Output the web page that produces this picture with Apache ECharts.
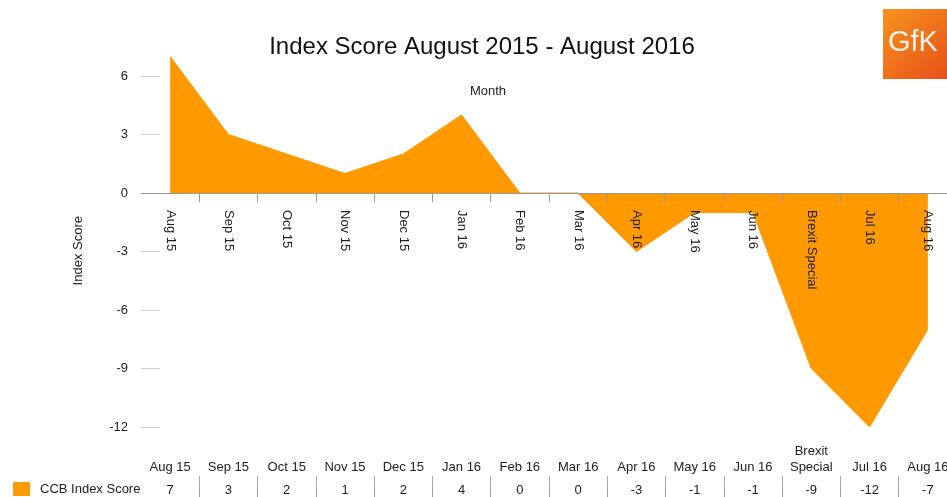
<!DOCTYPE html>
<html>
<head>
<meta charset="utf-8">
<script src="https://cdn.jsdelivr.net/npm/echarts@6/dist/echarts.min.js"></script>
<style>html,body{margin:0;padding:0;background:#fff}#c{width:947px;height:497px}</style>
</head>
<body>
<div id="c"></div>
<script>
var categories = ['Aug 15','Sep 15','Oct 15','Nov 15','Dec 15','Jan 16','Feb 16','Mar 16','Apr 16','May 16','Jun 16','Brexit Special','Jul 16','Aug 16'];
var headerLabels = ['Aug 15','Sep 15','Oct 15','Nov 15','Dec 15','Jan 16','Feb 16','Mar 16','Apr 16','May 16','Jun 16','Brexit\nSpecial','Jul 16','Aug 16'];
var scores = [7, 3, 2, 1, 2, 4, 0, 0, -3, -1, -1, -9, -12, -7];
var yTicks = [-12, -9, -6, -3, 0, 3, 6];

var FONT = '"Liberation Sans", Arial, sans-serif';
var chart = echarts.init(document.getElementById('c'), null, {renderer: 'canvas'});
chart.setOption({
  animation: false,
  textStyle: {fontFamily: FONT},
  title: [
    {text: 'Index Score August 2015 - August 2016', left: 477, top: 30, textAlign: 'center',
     textStyle: {fontSize: 24, fontWeight: 'normal', color: '#111', fontFamily: FONT}},
    {text: 'Month', left: 483, top: 80, textAlign: 'center',
     textStyle: {fontSize: 13, fontWeight: 'normal', color: '#222', fontFamily: FONT}}
  ],
  legend: {
    data: ['CCB Index Score'], left: 13, top: 482, padding: 0, icon: 'rect', itemWidth: 17, itemHeight: 14, itemGap: 8,
    textStyle: {fontSize: 13, color: '#222', fontFamily: FONT, padding: [0, 0, 0, 5]}
  },
  grid: [
    {left: 141, top: 56.5, width: 816, height: 370.5, outerBoundsMode: 'none', containLabel: false},
    {left: 141, top: 476, width: 816, height: 21, outerBoundsMode: 'none', containLabel: false},
    {left: 141, top: 193, width: 816, height: 100, outerBoundsMode: 'none', containLabel: false}
  ],
  xAxis: [
    {
      type: 'category', data: categories, gridIndex: 0, boundaryGap: true, z: 10,
      axisLine: {onZero: true, lineStyle: {color: '#999', width: 1}},
      axisTick: {show: true, length: 9, interval: function (i) { return i > 0; }, lineStyle: {color: '#999'}},
      axisLabel: {show: false},
      splitLine: {show: false}
    },
    {
      type: 'category', data: headerLabels, gridIndex: 1, position: 'top', boundaryGap: true,
      axisLine: {show: true, lineStyle: {color: '#eee', width: 1}},
      axisTick: {show: true, length: 7, interval: function (i) { return i > 0; }, lineStyle: {color: '#999'}},
      axisLabel: {margin: 1, fontSize: 13, color: '#222', interval: 0, lineHeight: 16, fontFamily: FONT},
      splitLine: {show: true, showMinLine: false, lineStyle: {color: '#aaa', width: 1}}
    },
    {
      type: 'category', data: categories, gridIndex: 1, position: 'top', boundaryGap: true,
      axisLine: {show: false}, axisTick: {show: false},
      axisLabel: {inside: true, margin: 8, fontSize: 13, color: '#222', interval: 0, fontFamily: FONT,
        formatter: function (v, i) { return String(scores[i]); }},
      splitLine: {show: false}
    },
    {
      type: 'category', data: categories, gridIndex: 2, position: 'top', boundaryGap: true, z: 10,
      axisLine: {show: false}, axisTick: {show: false},
      axisLabel: {inside: true, rotate: -90, margin: 17, fontSize: 13, color: '#222', interval: 0, fontFamily: FONT},
      splitLine: {show: false}
    }
  ],
  yAxis: [
    {
      type: 'value', gridIndex: 0, min: -12, max: 7,
      name: 'Index Score', nameLocation: 'middle', nameGap: 56, nameRotate: 90,
      nameTextStyle: {fontSize: 13, color: '#222', fontFamily: FONT, padding: [0, 18, 0, 0]},
      axisLine: {show: false},
      axisTick: {show: true, inside: true, length: 19, customValues: yTicks, lineStyle: {color: '#ccc'}},
      axisLabel: {margin: 13, fontSize: 13, color: '#222', customValues: yTicks, fontFamily: FONT},
      splitLine: {show: false}
    },
    {type: 'value', gridIndex: 1, show: false, min: 0, max: 1},
    {type: 'value', gridIndex: 2, show: false, min: 0, max: 1}
  ],
  series: [
    {
      name: 'CCB Index Score', type: 'line', xAxisIndex: 0, yAxisIndex: 0, data: scores,
      showSymbol: false, symbol: 'none', color: '#FF9900',
      lineStyle: {width: 1, color: '#FF9900'},
      areaStyle: {color: '#FF9900', opacity: 1}, z: 2
    }
  ],
  graphic: [
    {type: 'rect', left: 883, top: 9, shape: {width: 64, height: 70},
     style: {fill: new echarts.graphic.LinearGradient(0, 0, 1, 1, [{offset: 0, color: '#F7941D'}, {offset: 1, color: '#E8501A'}])}},
    {type: 'text', left: 888, top: 28, style: {text: 'GfK', fill: '#fdf3ea', fontSize: 29, fontFamily: FONT}}
  ]
});
</script>
</body>
</html>
